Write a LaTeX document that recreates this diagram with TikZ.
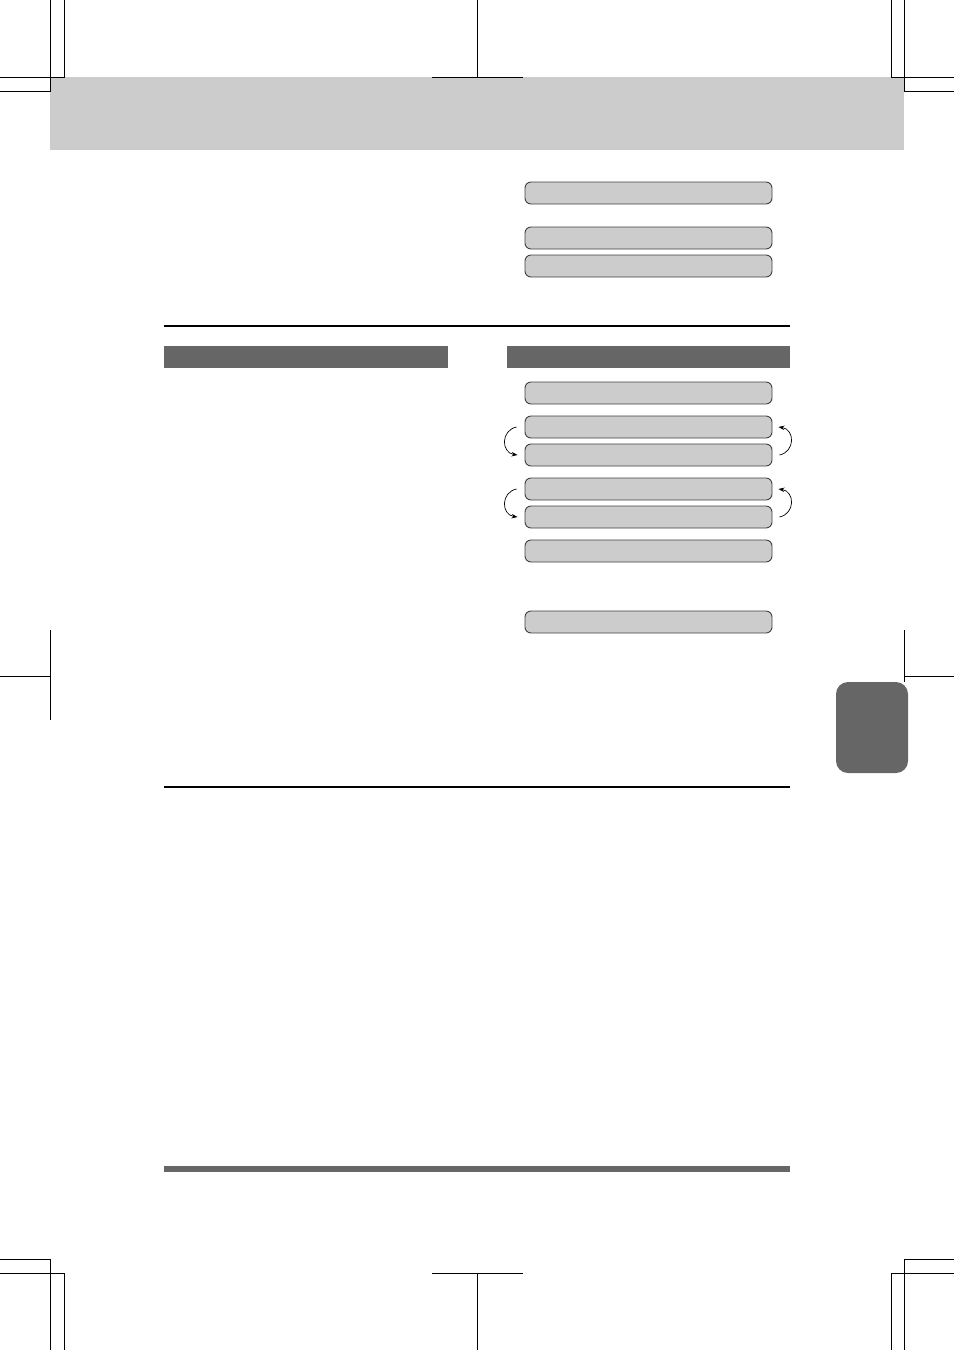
\documentclass[tikz,border=0pt]{standalone}
\usetikzlibrary{arrows.meta}

\definecolor{panelgray}{HTML}{CCCCCC}
\definecolor{headgray}{HTML}{666666}

\tikzset{
  lcd/.style={draw=black!75, fill=panelgray, rounded corners=6pt, minimum width=247pt, minimum height=22pt, inner sep=0pt, line width=0.9pt},
  headbar/.style={fill=headgray, minimum width=284pt, minimum height=22pt, inner sep=0pt},
  cropmark/.style={line width=1pt},
  scroll/.style={-{Stealth[length=6pt,width=4.5pt]}, line width=0.7pt, bend right=80, looseness=1.5},
}

\begin{document}
\begin{tikzpicture}[x=1pt,y=-1pt]
    \useasboundingbox (0,0) rectangle (954,1350);

    % --------------------------------------------------------- %
    % ------------- page header band and thumb tab
    % --------------------------------------------------------- %
    \fill[panelgray] (50,77) rectangle (904,150);
    \fill[headgray, rounded corners=12pt] (836,682) rectangle (908,773);

    % --------------------------------------------------------- %
    % ------------- crop marks
    % --------------------------------------------------------- %
    % --- top
    \draw[cropmark] (50,0) -- (50,91) -- (0,91);
    \draw[cropmark] (64,0) -- (64,77) -- (0,77);
    \draw[cropmark] (904,0) -- (904,91) -- (954,91);
    \draw[cropmark] (891,0) -- (891,77) -- (954,77);
    \draw[cropmark] (477,0) -- (477,77);
    \draw[cropmark] (432,77) -- (523,77);
    % --- sides
    \draw[cropmark] (50,630) -- (50,720);
    \draw[cropmark] (0,676) -- (50,676);
    \draw[cropmark] (904,630) -- (904,682);
    \draw[cropmark] (904,676) -- (954,676);
    % --- bottom
    \draw[cropmark] (50,1350) -- (50,1259) -- (0,1259);
    \draw[cropmark] (64,1350) -- (64,1273) -- (0,1273);
    \draw[cropmark] (904,1350) -- (904,1259) -- (954,1259);
    \draw[cropmark] (891,1350) -- (891,1273) -- (954,1273);
    \draw[cropmark] (477,1350) -- (477,1273);
    \draw[cropmark] (432,1273) -- (523,1273);

    % --------------------------------------------------------- %
    % ------------- top displays
    % --------------------------------------------------------- %
    \node[lcd] (top1) at (648.5,193) {};
    \node[lcd] (top2) at (648.5,238) {};
    \node[lcd] (top3) at (648.5,266) {};

    % --------------------------------------------------------- %
    % ------------- section rules and headers
    % --------------------------------------------------------- %
    \draw[line width=2pt] (164,326) -- (790,326);
    \node[headbar] (headL) at (306,357) {};
    \node[headbar, minimum width=283pt] (headR) at (648.5,357) {};
    \draw[line width=2pt] (164,787) -- (790,787);
    \fill[headgray] (164,1166) rectangle (790,1172);

    % --------------------------------------------------------- %
    % ------------- step displays
    % --------------------------------------------------------- %
    \node[lcd] (disp1) at (648.5,393) {};
    \node[lcd] (disp2) at (648.5,427) {};
    \node[lcd] (disp3) at (648.5,455) {};
    \node[lcd] (disp4) at (648.5,489) {};
    \node[lcd] (disp5) at (648.5,517) {};
    \node[lcd] (disp6) at (648.5,551) {};
    \node[lcd] (disp7) at (648.5,622) {};

    % --- scrolling arrows
    \draw[scroll] ([xshift=-8pt]disp2.west) to ([xshift=-7pt]disp3.west);
    \draw[scroll] ([xshift=7pt]disp3.east) to ([xshift=6pt]disp2.east);
    \draw[scroll] ([xshift=-8pt]disp4.west) to ([xshift=-7pt]disp5.west);
    \draw[scroll] ([xshift=7pt]disp5.east) to ([xshift=6pt]disp4.east);

\end{tikzpicture}
\end{document}
